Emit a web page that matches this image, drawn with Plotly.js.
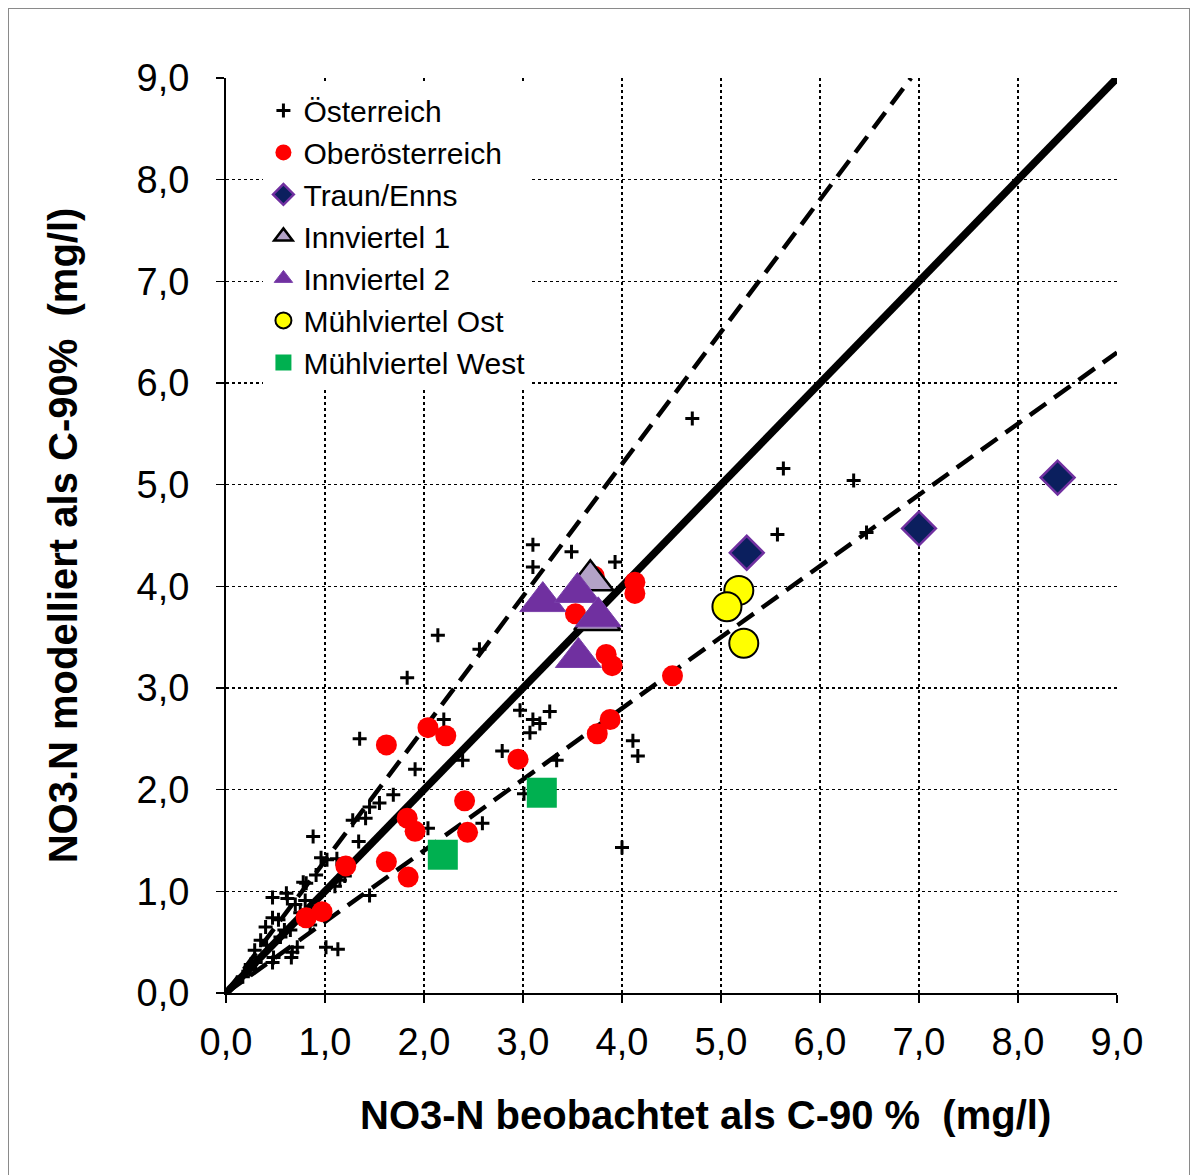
<!DOCTYPE html>
<html>
<head>
<meta charset="utf-8">
<script src="https://cdn.plot.ly/plotly-3.0.1.min.js"></script>
<style>
html,body{margin:0;padding:0;background:#fff;}
#frame{position:absolute;left:8px;top:8px;width:1180px;height:1200px;border:1.5px solid #8a8a8a;}
#chart{position:absolute;left:0;top:0;width:1193px;height:1175px;}
</style>
</head>
<body>
<div id="frame"></div>
<div id="chart"></div>
<script>
// Österreich (crosses)
const oestX = [4.71,5.63,6.34,5.57,6.47,3.10,3.10,3.49,3.93,2.14,1.83,2.56,2.97,3.27,3.10,3.17,3.07,2.79,2.39,3.34,4.11,4.16,4.00,2.59,
  1.35,2.20,1.91,1.69,1.55,1.45,1.41,1.28,0.88,1.34,2.04,0.96,1.02,1.45,0.47,0.61,0.81,0.91,0.47,0.40,0.35,0.48,0.66,1.01,1.13,0.72,0.67,
  0.47,0.24,0.17,0.53,0.75,0.70,0.78,0.41,0.62,3.01,1.12,0.59,0.29,0.85,1.15,0.80,0.30,0.55,0.90,1.10,0.25,0.65,1.20];
const oestY = [5.65,5.16,5.04,4.51,4.53,4.41,4.19,4.34,4.24,3.52,3.10,3.38,2.78,2.77,2.69,2.65,2.56,2.38,2.29,2.29,2.48,2.33,1.43,1.67,
  2.50,2.69,2.20,1.95,1.87,1.83,1.72,1.70,1.54,1.49,1.62,1.33,1.31,0.96,0.94,0.98,1.08,1.16,0.74,0.65,0.52,0.35,0.35,0.45,0.43,0.45,0.40,
  0.30,0.23,0.16,0.72,0.79,0.87,1.09,0.47,0.93,1.96,1.32,0.62,0.42,0.67,1.11,0.91,0.30,0.55,0.85,1.05,0.28,0.62,1.15];
// Oberösterreich (red circles)
const ooeX = [0.81,0.97,1.21,1.62,1.62,1.83,1.91,1.84,2.04,2.22,2.41,2.44,2.95,3.53,3.72,3.84,3.90,4.13,4.13,4.51,3.88,3.75];
const ooeY = [0.74,0.80,1.25,2.44,1.29,1.72,1.59,1.14,2.61,2.53,1.89,1.58,2.30,3.73,4.10,3.33,3.22,4.04,3.93,3.12,2.69,2.55];
// Traun/Enns
const traunX = [5.26,7.00,8.40];
const traunY = [4.33,4.57,5.07];
// Innviertel 1
const inn1X = [3.68,3.75];
const inn1Y = [4.06,3.67];
// Innviertel 2
const inn2X = [3.20,3.55,3.76,3.56];
const inn2Y = [3.85,3.94,3.70,3.30];
// Mühlviertel Ost
const mOstX = [5.18,5.06,5.23];
const mOstY = [3.96,3.80,3.44];
// Mühlviertel West
const mWestX = [2.19,3.19];
const mWestY = [1.36,1.97];
// reference lines
const line1X = [0,9], line1Y = [0,9];
const lineUpX = [0,6.92], lineUpY = [0,9];
const lineLoX = [0,9], lineLoY = [0,6.3];
const tickVals = [0,1,2,3,4,5,6,7,8,9];
const tickText = ['0,0','1,0','2,0','3,0','4,0','5,0','6,0','7,0','8,0','9,0'];
const xTitle = 'NO3-N beobachtet als C-90 %\u00a0 (mg/l)';
const yTitle = 'NO3.N modelliert als C-90%\u00a0 (mg/l)';

const F = 'Arial, "Liberation Sans", sans-serif';
const traces = [
  {x:line1X,y:line1Y,mode:'lines',line:{color:'#000',width:7.5},showlegend:false,hoverinfo:'skip'},
  {x:lineUpX,y:lineUpY,mode:'lines',line:{color:'#000',width:4.5,dash:'20px,10px'},showlegend:false,hoverinfo:'skip'},
  {x:lineLoX,y:lineLoY,mode:'lines',line:{color:'#000',width:4.5,dash:'20px,10px'},showlegend:false,hoverinfo:'skip'},
  {x:oestX,y:oestY,mode:'markers',name:'Österreich',marker:{symbol:'cross-thin',size:10,color:'#000',line:{color:'#000',width:3}}},
  {x:ooeX,y:ooeY,mode:'markers',name:'Oberösterreich',marker:{symbol:'circle',size:21,color:'#ff0000'}},
  {x:traunX,y:traunY,mode:'markers',name:'Traun/Enns',marker:{symbol:'diamond',size:26,color:'#0b1f5e',line:{color:'#7030a0',width:2.5}}},
  {x:inn1X,y:inn1Y,mode:'markers',name:'Innviertel 1',marker:{symbol:'triangle-up',size:40,color:'#b3a2c7',line:{color:'#000',width:2.5}}},
  {x:inn2X,y:inn2Y,mode:'markers',name:'Innviertel 2',marker:{symbol:'triangle-up',size:40,color:'#7030a0',line:{color:'#7a40aa',width:1}}},
  {x:mOstX,y:mOstY,mode:'markers',name:'Mühlviertel Ost',marker:{symbol:'circle',size:29,color:'#ffff00',line:{color:'#000',width:2}}},
  {x:mWestX,y:mWestY,mode:'markers',name:'Mühlviertel West',marker:{symbol:'square',size:30,color:'#00b050'}}
];
const axBase = {
  range:[0,9], tickvals:tickVals, ticktext:tickText, showgrid:true, gridcolor:'#000', griddash:'dot', gridwidth:1.4,
  zeroline:false, showline:true, linecolor:'#000', linewidth:2, ticks:'outside', ticklen:8, tickwidth:1.5, tickcolor:'#000',
  tickfont:{family:F,size:38,color:'#000'}, fixedrange:true
};
const layout = {
  width:1193, height:1175, paper_bgcolor:'rgba(0,0,0,0)', plot_bgcolor:'#fff',
  margin:{l:226,r:76,t:78,b:182},
  xaxis:Object.assign({},axBase,{ticklabelstandoff:6}),
  yaxis:Object.assign({},axBase,{ticklabelstandoff:19,title:{text:yTitle,font:{family:F,size:40,color:'#000',weight:'bold'},standoff:47}}),
  annotations:[{text:xTitle,xref:'paper',yref:'paper',x:0.5387,y:-0.1333,xanchor:'center',yanchor:'middle',showarrow:false,
    font:{family:F,size:40,color:'#000',weight:'bold'}}],
  showlegend:true,
  legend:{x:0.042,y:0.993,xanchor:'left',yanchor:'top',bgcolor:'#fff',borderwidth:0,font:{family:F,size:30,color:'#000'},tracegroupgap:0},
  hovermode:false
};
Plotly.newPlot('chart',traces,layout,{staticPlot:true});
</script>
</body>
</html>
